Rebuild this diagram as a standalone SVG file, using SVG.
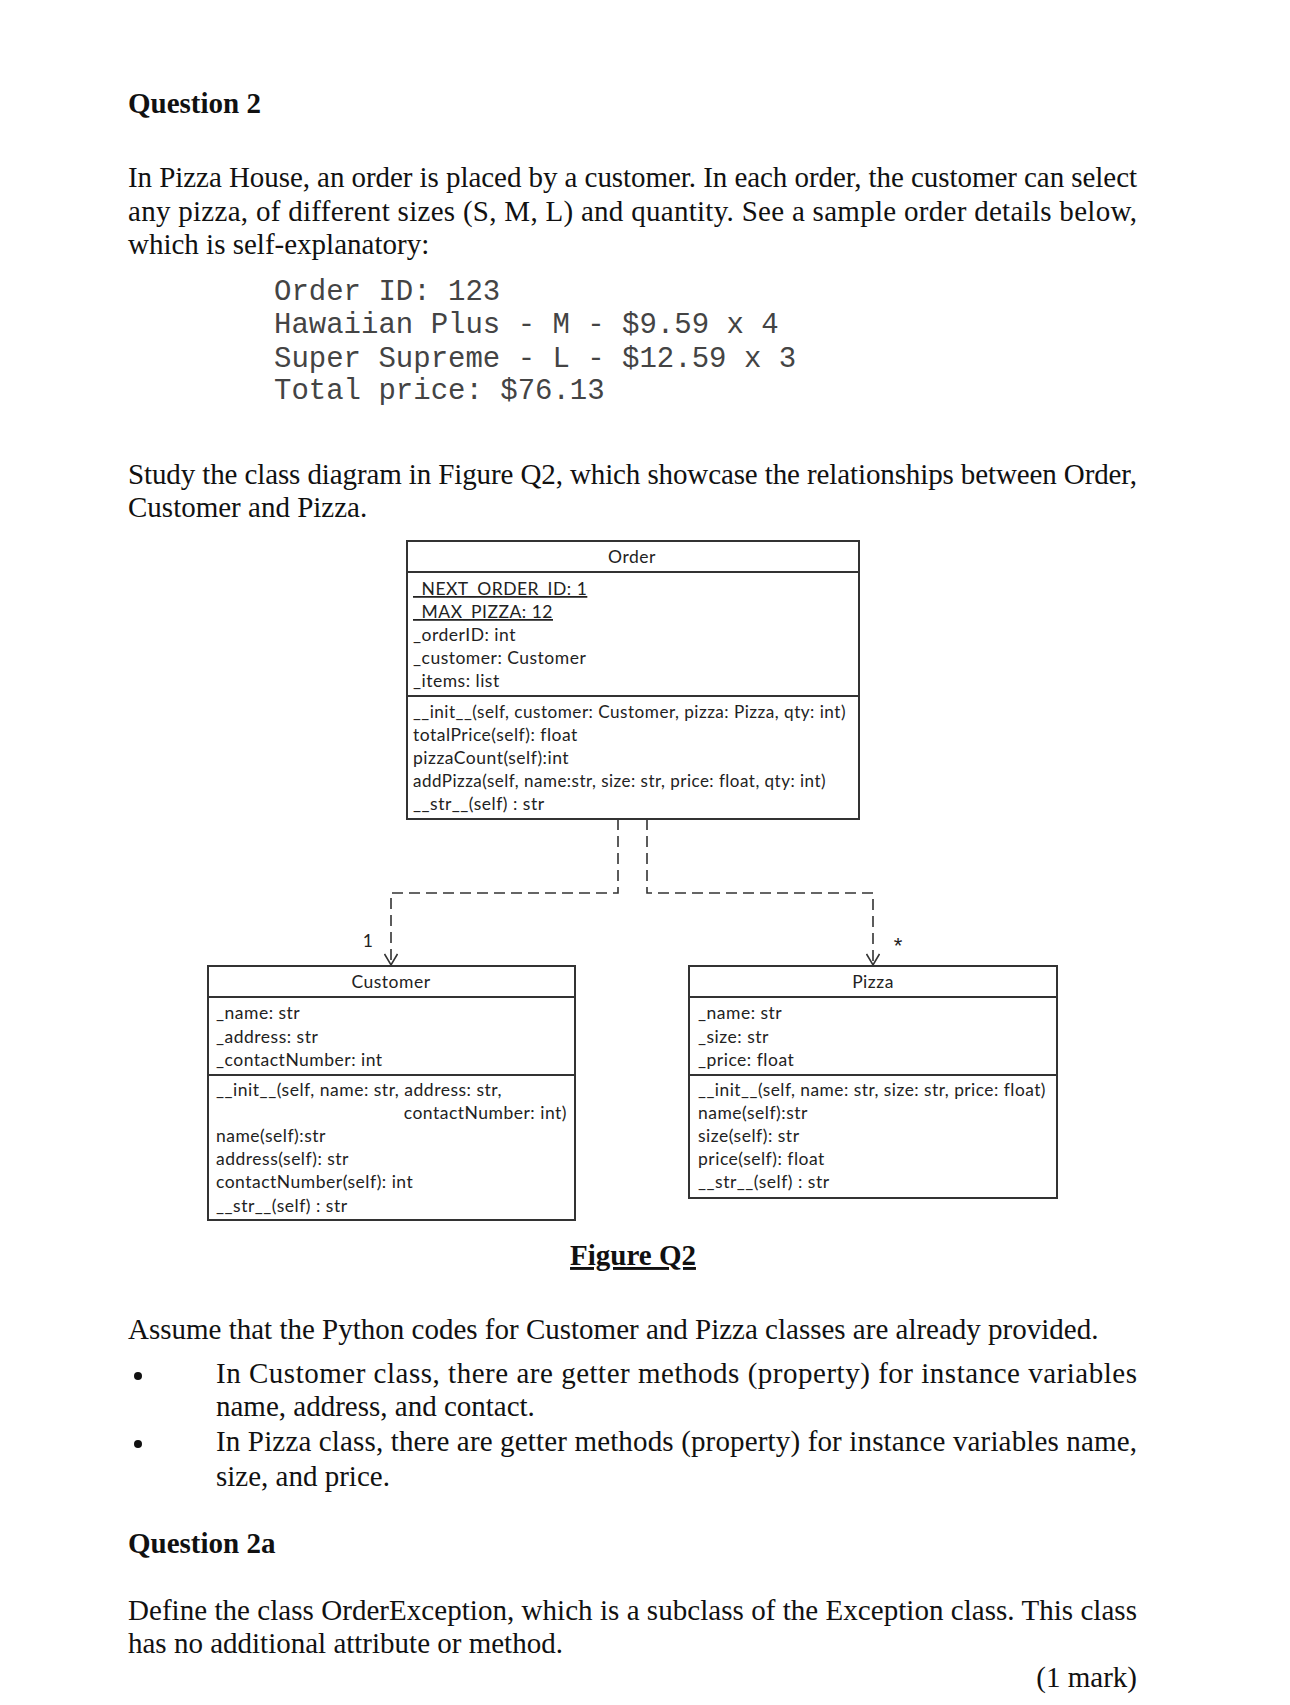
<svg xmlns="http://www.w3.org/2000/svg" width="1290" height="1705" viewBox="0 0 1290 1705">
<style>
.body{font-family:"Liberation Serif","Times New Roman",serif;font-size:29px;fill:#111}
.bold{font-weight:bold}
.mono{font-family:"Liberation Mono","Courier New",monospace;font-size:29px;fill:#444}
.uml{font-family:Lato,"Open Sans",sans-serif;font-size:17.5px;letter-spacing:0.5px;fill:#222}
.box{fill:#fff;stroke:#333;stroke-width:2}
.sep{stroke:#333;stroke-width:2}
.conn{fill:none;stroke:#333;stroke-width:1.6;stroke-dasharray:11,6}
</style>
<defs>
<marker id="open" markerWidth="14" markerHeight="14" refX="12" refY="7" orient="auto" markerUnits="userSpaceOnUse">
<path d="M1,0.5 L12,7 L1,13.5" fill="none" stroke="#333" stroke-width="1.6"/>
</marker>
</defs>
<rect width="1290" height="1705" fill="#fff"/>

<g id="text-top">
<text class="body bold" x="128" y="113">Question 2</text>
<text class="body" x="128" y="187" textLength="1009" lengthAdjust="spacing">In Pizza House, an order is placed by a customer. In each order, the customer can select</text>
<text class="body" x="128" y="221" textLength="1009" lengthAdjust="spacing">any pizza, of different sizes (S, M, L) and quantity.  See a sample order details below,</text>
<text class="body" x="128" y="254">which is self-explanatory:</text>
<text class="mono" x="274" y="300" xml:space="preserve">Order ID: 123</text>
<text class="mono" x="274" y="333" xml:space="preserve">Hawaiian Plus - M - $9.59 x 4</text>
<text class="mono" x="274" y="367" xml:space="preserve">Super Supreme - L - $12.59 x 3</text>
<text class="mono" x="274" y="399" xml:space="preserve">Total price: $76.13</text>
<text class="body" x="128" y="484" textLength="1009" lengthAdjust="spacing">Study the class diagram in Figure Q2, which showcase the relationships between Order,</text>
<text class="body" x="128" y="517">Customer and Pizza.</text>
</g>

<g id="connectors">
<path class="conn" d="M618,819 V893 H391 V965" marker-end="url(#open)"/>
<path class="conn" d="M647,819 V893 H873 V965" marker-end="url(#open)"/>
<text class="uml" x="368" y="947" text-anchor="middle">1</text>
<text x="898" y="953" text-anchor="middle" font-family="Liberation Sans,sans-serif" font-size="22" fill="#222">*</text>
</g>

<g id="order">
<rect class="box" x="407" y="541" width="452" height="278"/>
<line class="sep" x1="407" y1="572" x2="859" y2="572"/>
<line class="sep" x1="407" y1="696" x2="859" y2="696"/>
<text class="uml" x="632" y="563" text-anchor="middle">Order</text>
<text class="uml" x="413" y="595" text-decoration="underline">_NEXT_ORDER_ID: 1</text>
<text class="uml" x="413" y="618" text-decoration="underline">_MAX_PIZZA: 12</text>
<text class="uml" x="413" y="641">_orderID: int</text>
<text class="uml" x="413" y="664">_customer: Customer</text>
<text class="uml" x="413" y="687">_items: list</text>
<text class="uml" x="413" y="718" textLength="433" lengthAdjust="spacingAndGlyphs">__init__(self, customer: Customer, pizza: Pizza, qty: int)</text>
<text class="uml" x="413" y="741">totalPrice(self): float</text>
<text class="uml" x="413" y="764">pizzaCount(self):int</text>
<text class="uml" x="413" y="787" textLength="413" lengthAdjust="spacingAndGlyphs">addPizza(self, name:str, size: str, price: float, qty: int)</text>
<text class="uml" x="413" y="810">__str__(self) : str</text>
</g>

<g id="customer">
<rect class="box" x="208" y="966" width="367" height="254"/>
<line class="sep" x1="208" y1="997" x2="575" y2="997"/>
<line class="sep" x1="208" y1="1075" x2="575" y2="1075"/>
<text class="uml" x="391" y="988" text-anchor="middle">Customer</text>
<text class="uml" x="216" y="1019">_name: str</text>
<text class="uml" x="216" y="1043">_address: str</text>
<text class="uml" x="216" y="1066">_contactNumber: int</text>
<text class="uml" x="216" y="1096" textLength="286" lengthAdjust="spacingAndGlyphs">__init__(self, name: str, address: str,</text>
<text class="uml" x="567" y="1119" text-anchor="end">contactNumber: int)</text>
<text class="uml" x="216" y="1142">name(self):str</text>
<text class="uml" x="216" y="1165">address(self): str</text>
<text class="uml" x="216" y="1188">contactNumber(self): int</text>
<text class="uml" x="216" y="1212">__str__(self) : str</text>
</g>

<g id="pizza">
<rect class="box" x="689" y="966" width="368" height="232"/>
<line class="sep" x1="689" y1="997" x2="1057" y2="997"/>
<line class="sep" x1="689" y1="1075" x2="1057" y2="1075"/>
<text class="uml" x="873" y="988" text-anchor="middle">Pizza</text>
<text class="uml" x="698" y="1019">_name: str</text>
<text class="uml" x="698" y="1043">_size: str</text>
<text class="uml" x="698" y="1066">_price: float</text>
<text class="uml" x="698" y="1096" textLength="348" lengthAdjust="spacingAndGlyphs">__init__(self, name: str, size: str, price: float)</text>
<text class="uml" x="698" y="1119">name(self):str</text>
<text class="uml" x="698" y="1142">size(self): str</text>
<text class="uml" x="698" y="1165">price(self): float</text>
<text class="uml" x="698" y="1188">__str__(self) : str</text>
</g>

<g id="text-bottom">
<text class="body bold" x="633" y="1265" text-anchor="middle" text-decoration="underline">Figure Q2</text>
<text class="body" x="128" y="1339">Assume that the Python codes for Customer and Pizza classes are already provided.</text>
<circle cx="138" cy="1376" r="4" fill="#111"/>
<text class="body" x="216" y="1383" textLength="921" lengthAdjust="spacing">In Customer class, there are getter methods (property) for instance variables</text>
<text class="body" x="216" y="1416">name, address, and contact.</text>
<circle cx="138" cy="1444" r="4" fill="#111"/>
<text class="body" x="216" y="1451" textLength="921" lengthAdjust="spacing">In Pizza class, there are getter methods (property) for instance variables name,</text>
<text class="body" x="216" y="1486">size, and price.</text>
<text class="body bold" x="128" y="1553">Question 2a</text>
<text class="body" x="128" y="1620" textLength="1009" lengthAdjust="spacing">Define the class OrderException, which is a subclass of the Exception class. This class</text>
<text class="body" x="128" y="1653">has no additional attribute or method.</text>
<text class="body" x="1137" y="1687" text-anchor="end">(1 mark)</text>
</g>
</svg>
